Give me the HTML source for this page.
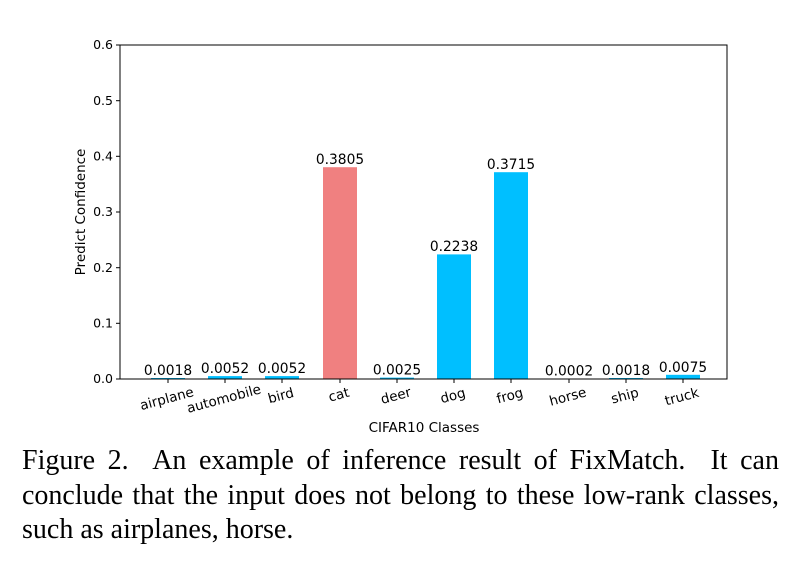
<!DOCTYPE html>
<html><head><meta charset="utf-8"><style>
body{margin:0;background:#fff;width:802px;height:569px;overflow:hidden;position:relative}
.cap{position:absolute;left:22px;width:757px;font-family:"Liberation Serif",serif;font-size:28px;color:#000;white-space:nowrap}
.j{text-align:justify;text-align-last:justify;word-spacing:-2px}
</style></head><body>
<svg width="802" height="440" style="position:absolute;left:0;top:0" font-family="DejaVu Sans, sans-serif">
<g fill="#F08080"><rect x="323" y="167.2" width="34" height="211.8"/></g>
<g fill="#00BFFF">
<rect x="151" y="378" width="34" height="1"/>
<rect x="208" y="376.1" width="34" height="2.9"/>
<rect x="265" y="376.1" width="34" height="2.9"/>
<rect x="380" y="377.6" width="34" height="1.4"/>
<rect x="437" y="254.4" width="34" height="124.6"/>
<rect x="494" y="172.2" width="34" height="206.8"/>
<rect x="552" y="378.6" width="34" height="0.4"/>
<rect x="609" y="378" width="34" height="1"/>
<rect x="666" y="374.8" width="34" height="4.2"/>
</g>
<rect x="120" y="45" width="607" height="334" fill="none" stroke="#000" stroke-width="1"/>
<g stroke="#000">
<line x1="116" x2="120" y1="379" y2="379"/><line x1="116" x2="120" y1="323.3" y2="323.3"/>
<line x1="116" x2="120" y1="267.7" y2="267.7"/><line x1="116" x2="120" y1="212" y2="212"/>
<line x1="116" x2="120" y1="156.3" y2="156.3"/><line x1="116" x2="120" y1="100.7" y2="100.7"/>
<line x1="116" x2="120" y1="45" y2="45"/>
</g>
<g font-size="12.5" text-anchor="end" fill="#000">
<text x="113" y="383">0.0</text><text x="113" y="327.5">0.1</text><text x="113" y="272">0.2</text>
<text x="113" y="216">0.3</text><text x="113" y="160.5">0.4</text><text x="113" y="105">0.5</text><text x="113" y="49">0.6</text>
</g>
<g stroke="#000">
<line x1="168" x2="168" y1="379" y2="383"/><line x1="225" x2="225" y1="379" y2="383"/>
<line x1="282" x2="282" y1="379" y2="383"/><line x1="340" x2="340" y1="379" y2="383"/>
<line x1="397" x2="397" y1="379" y2="383"/><line x1="454" x2="454" y1="379" y2="383"/>
<line x1="511" x2="511" y1="379" y2="383"/><line x1="569" x2="569" y1="379" y2="383"/>
<line x1="626" x2="626" y1="379" y2="383"/><line x1="683" x2="683" y1="379" y2="383"/>
</g>
<g font-size="13.8" text-anchor="middle" fill="#000">
<text x="168" y="375">0.0018</text><text x="225" y="373">0.0052</text><text x="282" y="373">0.0052</text>
<text x="340" y="164">0.3805</text><text x="397" y="374.5">0.0025</text><text x="454" y="251">0.2238</text>
<text x="511" y="169">0.3715</text><text x="569" y="375.5">0.0002</text><text x="626" y="375">0.0018</text><text x="683" y="372">0.0075</text>
</g>
<g font-size="13.5" text-anchor="middle" fill="#000">
<text transform="translate(168,403) rotate(-15)">airplane</text>
<text transform="translate(225,403) rotate(-15)">automobile</text>
<text transform="translate(282,400) rotate(-15)">bird</text>
<text transform="translate(340,399) rotate(-15)">cat</text>
<text transform="translate(397,400) rotate(-15)">deer</text>
<text transform="translate(454,400) rotate(-15)">dog</text>
<text transform="translate(511,400) rotate(-15)">frog</text>
<text transform="translate(569,401) rotate(-15)">horse</text>
<text transform="translate(626,400) rotate(-15)">ship</text>
<text transform="translate(683,401) rotate(-15)">truck</text>
</g>
<text x="424" y="432" font-size="13.5" text-anchor="middle">CIFAR10 Classes</text>
<text transform="translate(85,212) rotate(-90)" font-size="13.5" text-anchor="middle">Predict Confidence</text>
</svg>
<div class="cap j" style="top:445px">Figure 2.&nbsp; An example of inference result of FixMatch.&nbsp; It can</div>
<div class="cap j" style="top:480px">conclude that the input does not belong to these low-rank classes,</div>
<div class="cap" style="top:514px">such as airplanes, horse.</div>
</body></html>
